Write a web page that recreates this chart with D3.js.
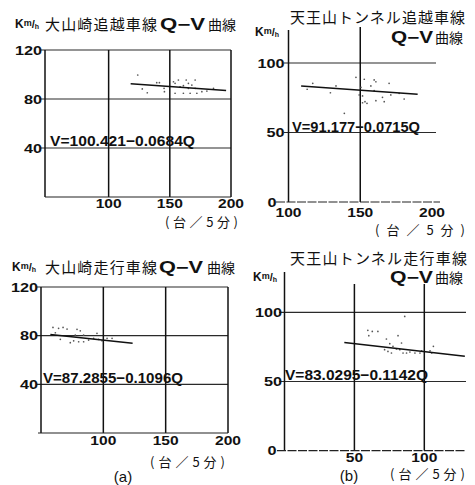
<!DOCTYPE html>
<html>
<head>
<meta charset="utf-8">
<script src="https://cdn.jsdelivr.net/npm/d3@7"></script>
<style>
  html, body { margin: 0; padding: 0; background: #fff; }
  svg { display: block; }
</style>
</head>
<body>
<script>
// Q–V (flow vs. speed) plots for four lanes
const panelTitles = ["大山崎追越車線", "天王山トンネル追越車線", "大山崎走行車線", "天王山トンネル走行車線"];
const curveLabel = "Q−V";
const curveSuffix = "曲線";
const unitLabel = "(台／5分)";
const panelLetters = ["(a)", "(b)"];

// Regression V = a − b·Q for each lane
const intercepts = [100.421, 91.177, 87.2855, 83.0295];
const slopes = [0.0684, 0.0715, 0.1096, 0.1142];
const fitRanges = [[118, 196], [108.8, 190], [57.5, 123.5], [42.8, 129]];

// Tick labels
const xTicks = [[100, 150, 200], [100, 150, 200], [100, 150, 200], [50, 100]];
const yTicks = [[40, 80, 120], [0, 50, 100], [40, 80, 120], [0, 50, 100]];

// Observations: Q (veh / 5 min), V (km/h)
const qA = [123.8,127.5,131.6,139.3,141.5,145.3,145.6,153,154.3,154.3,157,158.4,161.1,161.1,163.4,165.2,165.2,166.6,168,170.7,170.7,172.1,176.2,180.3,185.7];
const vA = [99.6,88.2,85.1,93.3,93.3,88.7,86,94.1,92.8,84.7,95.5,90,90.9,84.7,95.5,92.8,88.7,84.7,91.4,95.5,88.7,84.7,86,86.5,88.7];
const qB = [113,116.9,129.2,133.1,138.9,147,149.3,150.5,151.6,151.6,152.8,153.3,154.7,157.4,159.7,159.7,160.9,160.9,165.5,166.7,170.1,171.3,177.1,180.6];
const vB = [81.1,85.4,78.6,83.5,63.8,89.7,77,82.5,76.3,71.4,88.3,72.2,71,83.5,87.8,80.1,86.5,72.9,75.3,72.2,85.4,77,78.2,74.1];
const qC = [59.6,61.5,64.1,65.5,67.7,70.9,73.5,76.2,77.5,78.9,80.2,81.5,84.2,84.2,88.2,92.2,94.9,96.2,99,103,107];
const vC = [86.8,82.4,86,77,86.8,85.4,74.2,75.8,80.5,85.2,75,84,80.5,75,76.4,77.8,81.9,77,75.8,77.8,77.8];
const qD = [59.6,60.3,62.8,66.8,71.6,72.9,74,75.3,76.5,77.6,80.1,81.2,82.5,83.7,84.8,86,87.3,89.7,93.3,96.9,98.1,104.1,105.3,106.5];
const vD = [87,83.1,86.2,86.2,73,80.7,71.7,77.3,70.6,75.4,73.5,83.1,73,77.8,70.6,97,70.6,71.3,70.6,70.6,72.2,72.2,70.6,75.4];
const seriesQ = [qA, qB, qC, qD];
const seriesV = [vA, vB, vC, vD];

// Panel geometry
const layout = [
  { xDom: [48, 200], xRng: [45, 231], yDom: [0, 120], yRng: [197, 50], box: true,
    gridX: [100, 150, 200], gridTop: 50, axisTop: 50, hStart: 41, hEnd: 231, bStart: 45, bEnd: 231,
    xLabY: 208, yLabOff: 3, zeroOff: 3, eqX: 50, eqY: 146, eqW: 145,
    title: { kx: 15, ky: 28, tx: 45, ty: 30, oneLine: true, cjkW: 112, qx: 160, qW: 45, sx: 208 },
    unit: { x: 165, y: 227, w: 73 } },
  { xDom: [100, 200], xRng: [288.5, 432], yDom: [0, 100], yRng: [202, 63], box: false,
    gridX: [150], gridTop: 27, axisTop: 30, hStart: 284, hEnd: 436, bStart: 276, bEnd: 440,
    xLabY: 217, yLabOff: 4, zeroOff: 12, eqX: 292, eqY: 132, eqW: 128,
    title: { kx: 255, ky: 36, tx: 290, ty: 23, oneLine: false, cjkW: 175, qx: 391, qy: 43, qW: 42, sx: 435 },
    unit: { x: 375, y: 235, w: 90 } },
  { xDom: [50, 200], xRng: [41, 228], yDom: [0, 120], yRng: [433, 287], box: true,
    gridX: [100, 150, 200], gridTop: 287, axisTop: 287, hStart: 37, hEnd: 228, bStart: 38, bEnd: 228,
    xLabY: 445, yLabOff: 3, zeroOff: 3, eqX: 43, eqY: 383, eqW: 140,
    title: { kx: 12, ky: 271, tx: 45, ty: 273, oneLine: true, cjkW: 112, qx: 159, qW: 44, sx: 207 },
    unit: { x: 150, y: 467, w: 75 } },
  { xDom: [0, 100], xRng: [284.5, 424.3], yDom: [0, 100], yRng: [450.7, 312.3], box: false,
    gridX: [50, 100], gridTop: 284, axisTop: 272, hStart: 279, hEnd: 466, bStart: 277, bEnd: 466,
    xLabY: 462, yLabOff: 2.5, zeroOff: 8, eqX: 285, eqY: 380, eqW: 143,
    title: { kx: 253, ky: 281, tx: 290, ty: 264, oneLine: false, cjkW: 177, qx: 390, qy: 283, qW: 43, sx: 435 },
    unit: { x: 390, y: 479, w: 75 } }
];

const W = 475, H = 485;
const svg = d3.select("body").append("svg").attr("width", W).attr("height", H);

const NUM_FONT = "'Liberation Sans', Arial, sans-serif";
const CJK_FONT = "'Noto Sans CJK JP', 'Noto Sans CJK SC', sans-serif";
const INK = "#111";

// speed unit drawn as K with a small stacked m/h
function drawUnitKmh(g, x, y) {
  const t = g.append("text").attr("x", x).attr("y", y)
    .attr("font-family", NUM_FONT).attr("font-weight", "bold").attr("fill", INK);
  t.append("tspan").attr("font-size", 12).text("K");
  t.append("tspan").attr("font-size", 9).attr("dy", -2).text("m");
  t.append("tspan").attr("font-size", 11).attr("dy", 2).text("/");
  t.append("tspan").attr("font-size", 7).attr("dy", 1).text("h");
}

layout.forEach((L, i) => {
  const g = svg.append("g");
  const x = d3.scaleLinear().domain(L.xDom).range(L.xRng);
  const y = d3.scaleLinear().domain(L.yDom).range(L.yRng);
  const xL = L.xRng[0];
  const yB = L.yRng[0];

  // horizontal grid lines at y ticks
  g.selectAll("line.h").data(yTicks[i].filter(v => v !== L.yDom[0])).enter().append("line")
    .attr("x1", L.hStart).attr("x2", L.hEnd)
    .attr("y1", d => y(d)).attr("y2", d => y(d))
    .attr("stroke", "#2a2a2a").attr("stroke-width", 1.2);

  // vertical grid lines
  g.selectAll("line.v").data(L.gridX).enter().append("line")
    .attr("x1", d => x(d)).attr("x2", d => x(d))
    .attr("y1", L.gridTop).attr("y2", yB)
    .attr("stroke", INK).attr("stroke-width", 1.5);

  // y axis
  g.append("line").attr("x1", xL).attr("x2", xL).attr("y1", L.axisTop).attr("y2", yB)
    .attr("stroke", INK).attr("stroke-width", 1.5);
  // x axis
  g.append("line").attr("x1", L.bStart).attr("x2", L.bEnd).attr("y1", yB).attr("y2", yB)
    .attr("stroke", "#222").attr("stroke-width", 1.2)
    .attr("stroke-dasharray", L.box ? null : "9,1.5");

  // y tick labels
  g.selectAll("text.yt").data(yTicks[i]).enter().append("text")
    .attr("transform", d => `translate(${xL - (d === 0 ? L.zeroOff : L.yLabOff)},${y(d) + 4.5}) scale(1.25,1)`)
    .attr("text-anchor", "end")
    .attr("font-family", NUM_FONT).attr("font-weight", "bold").attr("font-size", 13)
    .attr("fill", INK).text(d => d);

  // x tick labels
  g.selectAll("text.xt").data(xTicks[i]).enter().append("text")
    .attr("transform", d => `translate(${x(d)},${L.xLabY}) scale(1.3,1)`)
    .attr("text-anchor", "middle")
    .attr("font-family", NUM_FONT).attr("font-weight", "bold").attr("font-size", 12)
    .attr("fill", INK).text(d => d);

  // observations
  g.selectAll("circle").data(d3.range(seriesQ[i].length)).enter().append("circle")
    .attr("cx", k => x(seriesQ[i][k])).attr("cy", k => y(seriesV[i][k]))
    .attr("r", 0.85).attr("fill", "#555");

  // regression line
  const fit = q => intercepts[i] - slopes[i] * q;
  const line = d3.line().x(d => x(d)).y(d => y(fit(d)));
  g.append("path").attr("d", line(fitRanges[i]))
    .attr("fill", "none").attr("stroke", INK).attr("stroke-width", 1.5);

  // equation label
  g.append("text").attr("x", L.eqX).attr("y", L.eqY)
    .attr("font-family", NUM_FONT).attr("font-weight", "bold").attr("font-size", 15)
    .attr("textLength", L.eqW).attr("lengthAdjust", "spacingAndGlyphs")
    .attr("fill", INK)
    .text(`V=${intercepts[i]}−${slopes[i]}Q`);

  // title
  const T = L.title;
  drawUnitKmh(g, T.kx, T.ky);
  g.append("text").attr("x", T.tx).attr("y", T.ty)
    .attr("font-family", CJK_FONT).attr("font-size", 15).attr("fill", INK)
    .attr("textLength", T.cjkW).attr("lengthAdjust", "spacing")
    .text(panelTitles[i]);
  const qy = T.oneLine ? T.ty : T.qy;
  g.append("text").attr("x", T.qx).attr("y", qy)
    .attr("font-family", NUM_FONT).attr("font-weight", "bold").attr("font-size", 16)
    .attr("textLength", T.qW).attr("lengthAdjust", "spacingAndGlyphs")
    .attr("fill", INK).text(curveLabel);
  g.append("text").attr("x", T.sx).attr("y", qy)
    .attr("font-family", CJK_FONT).attr("font-size", 14).attr("fill", INK)
    .text(curveSuffix);

  // unit of flow
  g.append("text").attr("x", L.unit.x).attr("y", L.unit.y)
    .attr("font-family", CJK_FONT).attr("font-size", 13).attr("fill", INK)
    .attr("textLength", L.unit.w).attr("lengthAdjust", "spacing")
    .text(unitLabel);
});

// panel letters
svg.append("text").attr("x", 123).attr("y", 482).attr("text-anchor", "middle")
  .attr("font-family", NUM_FONT).attr("font-size", 15).attr("fill", INK).text(panelLetters[0]);
svg.append("text").attr("x", 349).attr("y", 481).attr("text-anchor", "middle")
  .attr("font-family", NUM_FONT).attr("font-size", 15).attr("fill", INK).text(panelLetters[1]);
</script>
</body>
</html>
